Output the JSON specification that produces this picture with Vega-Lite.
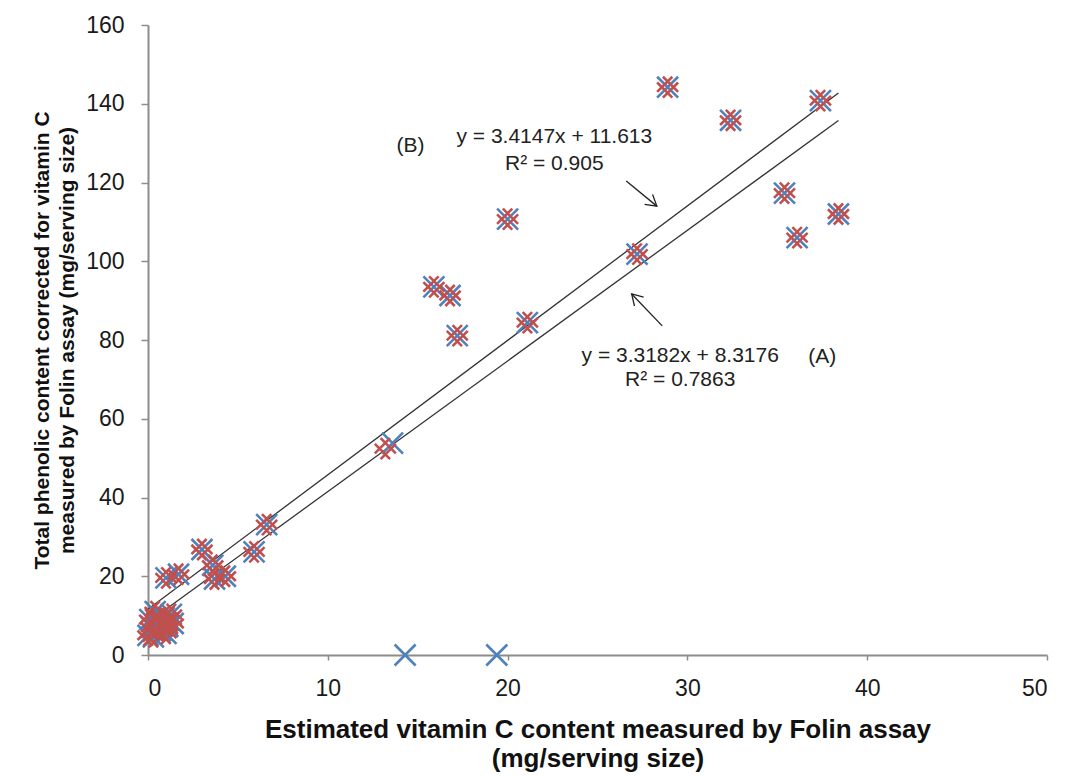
{
  "$schema": "https://vega.github.io/schema/vega-lite/v6.json",
  "width": 899,
  "height": 630,
  "autosize": {"type": "none"},
  "padding": {"left": 148, "top": 25, "right": 18, "bottom": 121},
  "background": "white",
  "config": {
    "view": {"stroke": null},
    "font": "Liberation Sans",
    "axis": {
      "grid": false,
      "domainColor": "#8c8c8c",
      "domainWidth": 2,
      "tickColor": "#8c8c8c",
      "tickWidth": 1.5,
      "tickSize": 7,
      "labelFont": "Liberation Sans",
      "labelFontSize": 23,
      "labelColor": "#1a1a1a",
      "titleFont": "Liberation Sans",
      "titleFontWeight": "bold",
      "titleColor": "#111111"
    }
  },
  "datasets": {
    "folinA": [
      {"x": 28.9, "y": 144.2}, {"x": 32.4, "y": 135.8}, {"x": 37.4, "y": 140.8},
      {"x": 35.4, "y": 117.3}, {"x": 38.4, "y": 112.0}, {"x": 36.1, "y": 106.0},
      {"x": 20.0, "y": 110.7}, {"x": 27.2, "y": 101.8}, {"x": 15.9, "y": 93.5},
      {"x": 16.8, "y": 91.3}, {"x": 17.2, "y": 81.1}, {"x": 21.1, "y": 84.4},
      {"x": 13.6, "y": 53.8}, {"x": 6.6, "y": 33.1}, {"x": 5.9, "y": 26.2},
      {"x": 3.0, "y": 26.8}, {"x": 3.6, "y": 22.8}, {"x": 3.7, "y": 19.3},
      {"x": 4.3, "y": 20.0}, {"x": 1.0, "y": 19.6}, {"x": 1.7, "y": 20.5},
      {"x": 0.0, "y": 5.0}, {"x": 0.2, "y": 7.0}, {"x": 0.3, "y": 4.6},
      {"x": 0.5, "y": 8.5}, {"x": 0.7, "y": 6.2}, {"x": 0.9, "y": 9.5},
      {"x": 1.1, "y": 7.3}, {"x": 1.3, "y": 10.3}, {"x": 1.4, "y": 8.0},
      {"x": 0.1, "y": 9.0}, {"x": 1.0, "y": 5.5}, {"x": 0.4, "y": 11.0},
      {"x": 14.3, "y": 0.0}, {"x": 19.4, "y": 0.0}
    ],
    "folinB": [
      {"x": 28.9, "y": 144.2}, {"x": 32.4, "y": 135.8}, {"x": 37.4, "y": 140.8},
      {"x": 35.4, "y": 117.3}, {"x": 38.4, "y": 112.0}, {"x": 36.1, "y": 106.0},
      {"x": 20.0, "y": 110.7}, {"x": 27.2, "y": 101.8}, {"x": 15.9, "y": 93.5},
      {"x": 16.8, "y": 91.3}, {"x": 17.2, "y": 81.1}, {"x": 21.1, "y": 84.4},
      {"x": 13.2, "y": 52.4}, {"x": 6.6, "y": 33.1}, {"x": 5.9, "y": 26.2},
      {"x": 3.0, "y": 26.8}, {"x": 3.6, "y": 22.8}, {"x": 3.7, "y": 19.3},
      {"x": 4.3, "y": 20.0}, {"x": 1.0, "y": 19.6}, {"x": 1.7, "y": 20.5},
      {"x": 0.0, "y": 5.0}, {"x": 0.2, "y": 7.0}, {"x": 0.3, "y": 4.6},
      {"x": 0.5, "y": 8.5}, {"x": 0.7, "y": 6.2}, {"x": 0.9, "y": 9.5},
      {"x": 1.1, "y": 7.3}, {"x": 1.3, "y": 10.3}, {"x": 1.4, "y": 8.0},
      {"x": 0.1, "y": 9.0}, {"x": 1.0, "y": 5.5}, {"x": 0.4, "y": 11.0}
    ],
    "fits": [
      {"fit": "A", "x": 0, "y": 8.3176}, {"fit": "A", "x": 38.4, "y": 135.737},
      {"fit": "B", "x": 0, "y": 11.613}, {"fit": "B", "x": 38.4, "y": 142.737}
    ],
    "notes": [
      {"x": 14.6, "y": 129.3, "label": "(B)"},
      {"x": 22.6, "y": 131.5, "label": "y = 3.4147x + 11.613"},
      {"x": 22.6, "y": 124.6, "label": "R² = 0.905"},
      {"x": 29.6, "y": 75.9, "label": "y = 3.3182x + 8.3176"},
      {"x": 29.6, "y": 69.8, "label": "R² = 0.7863"},
      {"x": 37.5, "y": 75.6, "label": "(A)"}
    ],
    "arrows": [
      {"name": "B", "x": 26.6, "y": 120.4, "x2": 28.3, "y2": 114.0},
      {"name": "A", "x": 28.6, "y": 83.6, "x2": 26.9, "y2": 91.7}
    ]
  },
  "encoding": {
    "x": {
      "field": "x", "type": "quantitative",
      "scale": {"domain": [0, 50], "nice": false, "zero": false},
      "axis": {
        "values": [0, 10, 20, 30, 40, 50],
        "tickSize": 5,
        "labelPadding": 17,
        "title": ["Estimated vitamin C content measured by Folin assay", "(mg/serving size)"],
        "titleFontSize": 26,
        "titleLineHeight": 29,
        "titlePadding": 16
      }
    },
    "y": {
      "field": "y", "type": "quantitative",
      "scale": {"domain": [0, 160], "nice": false, "zero": false},
      "axis": {
        "values": [0, 20, 40, 60, 80, 100, 120, 140, 160],
        "labelPadding": 17,
        "title": ["Total phenolic content corrected for vitamin C", "measured by Folin assay (mg/serving size)"],
        "titleFontSize": 21,
        "titleLineHeight": 25,
        "titlePadding": 8
      }
    }
  },
  "layer": [
    {
      "data": {"name": "fits"},
      "mark": {"type": "line", "color": "#333333", "strokeWidth": 1.3},
      "encoding": {"detail": {"field": "fit"}}
    },
    {
      "data": {"name": "folinA"},
      "mark": {
        "type": "point",
        "shape": "M-1,-1L1,1M-1,1L1,-1",
        "filled": false,
        "size": 440,
        "stroke": "#4f81bd",
        "strokeWidth": 2.6,
        "opacity": 1
      }
    },
    {
      "data": {"name": "folinB"},
      "mark": {
        "type": "point",
        "shape": "M-1,-0.45L0.45,1M-0.45,-1L1,0.45M-1,0.45L0.45,-1M-0.45,1L1,-0.45",
        "filled": false,
        "size": 440,
        "stroke": "#c0504d",
        "strokeWidth": 2.6,
        "opacity": 1
      }
    },
    {
      "data": {"name": "notes"},
      "mark": {"type": "text", "fontSize": 21, "color": "#222222", "align": "center", "baseline": "middle"},
      "encoding": {"text": {"field": "label"}}
    },
    {
      "data": {"name": "arrows"},
      "mark": {"type": "rule", "color": "#222222", "strokeWidth": 1.3},
      "encoding": {"x2": {"field": "x2"}, "y2": {"field": "y2"}}
    },
    {
      "data": {"name": "arrows"},
      "transform": [{"filter": "datum.name === 'B'"}],
      "mark": {"type": "point", "shape": "M-1,-0.6L0,0L-1,0.6", "filled": false, "size": 450, "stroke": "#222222", "strokeWidth": 1.3, "angle": 39, "opacity": 1},
      "encoding": {"x": {"field": "x2", "type": "quantitative"}, "y": {"field": "y2", "type": "quantitative"}}
    },
    {
      "data": {"name": "arrows"},
      "transform": [{"filter": "datum.name === 'A'"}],
      "mark": {"type": "point", "shape": "M-1,-0.6L0,0L-1,0.6", "filled": false, "size": 450, "stroke": "#222222", "strokeWidth": 1.3, "angle": 226, "opacity": 1},
      "encoding": {"x": {"field": "x2", "type": "quantitative"}, "y": {"field": "y2", "type": "quantitative"}}
    }
  ]
}
